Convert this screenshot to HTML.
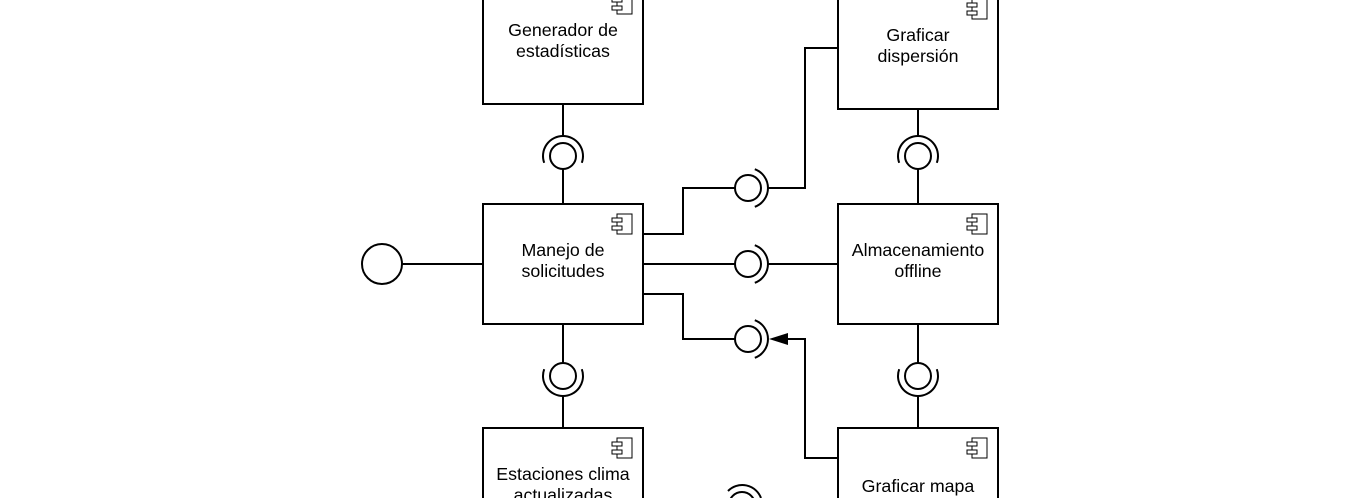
<!DOCTYPE html>
<html><head><meta charset="utf-8"><style>
html,body{margin:0;padding:0;background:#fff;width:1360px;height:498px;overflow:hidden}
svg{display:block}
svg text{font-family:"Liberation Sans",Arial,sans-serif;font-size:17.8px;fill:#000}
</style></head><body>
<svg width="1360" height="498" viewBox="0 0 1360 498" xmlns="http://www.w3.org/2000/svg">
<defs>
<g id="ic" fill="#fff" stroke="#000" stroke-width="1">
<rect x="-26" y="10" width="15" height="20"/>
<rect x="-31" y="14" width="10" height="4"/>
<rect x="-31" y="22" width="10" height="4"/>
</g>
</defs>
<g fill="none" stroke="#000" stroke-width="2">
<rect x="483" y="-16" width="160" height="120" fill="#fff"/>
<rect x="838" y="-11" width="160" height="120" fill="#fff"/>
<rect x="483" y="204" width="160" height="120" fill="#fff"/>
<rect x="838" y="204" width="160" height="120" fill="#fff"/>
<rect x="483" y="428" width="160" height="120" fill="#fff"/>
<rect x="838" y="428" width="160" height="120" fill="#fff"/>
<circle cx="382" cy="264" r="20"/>
<line x1="402" y1="264" x2="483" y2="264"/>
<!-- top middle -->
<line x1="563" y1="104" x2="563" y2="136"/>
<path d="M544.2,162.8 A20,20 0 1 1 581.8,162.8"/>
<circle cx="563" cy="156" r="13"/>
<line x1="563" y1="169" x2="563" y2="204"/>
<!-- bottom middle -->
<line x1="563" y1="324" x2="563" y2="363"/>
<circle cx="563" cy="376" r="13"/>
<path d="M544.2,369.2 A20,20 0 1 0 581.8,369.2"/>
<line x1="563" y1="396" x2="563" y2="428"/>
<!-- right column top -->
<line x1="918" y1="109" x2="918" y2="136"/>
<path d="M899.2,162.8 A20,20 0 1 1 936.8,162.8"/>
<circle cx="918" cy="156" r="13"/>
<line x1="918" y1="169" x2="918" y2="204"/>
<!-- right column bottom -->
<line x1="918" y1="324" x2="918" y2="363"/>
<circle cx="918" cy="376" r="13"/>
<path d="M899.2,369.2 A20,20 0 1 0 936.8,369.2"/>
<line x1="918" y1="396" x2="918" y2="428"/>
<!-- middle row 1 -->
<polyline points="643,234 683,234 683,188 735,188"/>
<circle cx="748" cy="188" r="13"/>
<path d="M754.8,169.2 A20,20 0 0 1 754.8,206.8"/>
<polyline points="768,188 805,188 805,48 838,48"/>
<!-- middle row 2 -->
<line x1="643" y1="264" x2="735" y2="264"/>
<circle cx="748" cy="264" r="13"/>
<path d="M754.8,245.2 A20,20 0 0 1 754.8,282.8"/>
<line x1="768" y1="264" x2="838" y2="264"/>
<!-- middle row 3 -->
<polyline points="643,294 683,294 683,339 735,339"/>
<circle cx="748" cy="339" r="13"/>
<path d="M754.8,320.2 A20,20 0 0 1 754.8,357.8"/>
<polyline points="838,458 805,458 805,339 785,339"/>
<!-- bottom partial -->
<circle cx="742" cy="505" r="13"/>
<path d="M728,491 A20,20 0 0 1 761,498"/>
</g>
<polygon points="769,339 788,333 788,345" fill="#000"/>
<use href="#ic" x="643" y="-16"/>
<use href="#ic" x="998" y="-11"/>
<use href="#ic" x="643" y="204"/>
<use href="#ic" x="998" y="204"/>
<use href="#ic" x="643" y="428"/>
<use href="#ic" x="998" y="428"/>
<g text-anchor="middle">
<text x="563" y="36">Generador de</text>
<text x="563" y="57">estadísticas</text>
<text x="918" y="41">Graficar</text>
<text x="918" y="62">dispersión</text>
<text x="563" y="256">Manejo de</text>
<text x="563" y="277">solicitudes</text>
<text x="918" y="256">Almacenamiento</text>
<text x="918" y="277">offline</text>
<text x="563" y="480">Estaciones clima</text>
<text x="563" y="501">actualizadas</text>
<text x="918" y="492">Graficar mapa</text>
</g>
</svg>
</body></html>
